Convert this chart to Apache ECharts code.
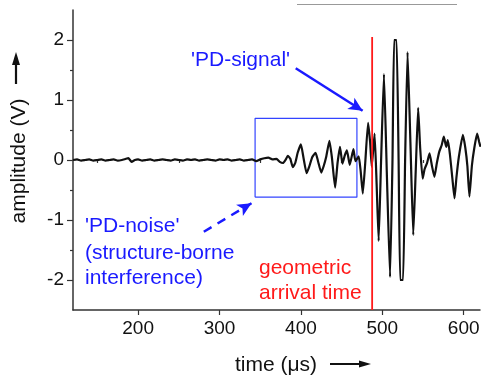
<!DOCTYPE html>
<html><head><meta charset="utf-8">
<script src="https://cdn.jsdelivr.net/npm/echarts@6/dist/echarts.min.js"></script>
<style>html,body{margin:0;padding:0;background:#fff}#c{width:481px;height:375px}</style>
</head><body><div id="c"></div>
<script>
// time (µs)
const times = [120,125,130,135,140,145,150,155,160,165,170,175,180,185,188,192,196,200,205,210,215,220,225,230,235,240,245,250,255,260,265,270,275,280,285,290,295,300,305,310,315,320,325,330,335,340,345,350,355,360,365,370,374,378,381,384,387,390,393,396,400,403,407,410,414,418,421,425,428,431,435,438,442,445,448,451,454,456.5,460,464.5,467,471,473.5,476,479,482.5,485,487,490.5,493,495.5,498.5,502,505.5,509.5,512.5,514.5,517.5,520,522,525.5,528,531,534.5,538,541,544,546.5,549.5,552,555,558,561,564,567,570,573,575.5,578.5,580.5,583,586,588.7,591,594,599,602,604.5,607,610,613,616.5,619,620.6];
// amplitude (V)
const amps = [0.00,0.01,-0.01,0.00,0.01,-0.01,0.00,0.01,-0.01,0.00,0.01,-0.01,0.00,0.02,0.03,-0.03,0.00,0.01,-0.01,0.00,0.01,-0.01,0.00,0.01,0.00,-0.01,0.01,0.00,-0.01,0.01,0.00,0.01,-0.01,0.00,0.01,0.00,-0.01,0.01,0.00,0.01,-0.01,0.00,0.01,-0.01,0.00,0.01,-0.02,0.01,0.03,0.04,0.01,0.02,-0.03,-0.05,0.00,0.07,0.02,-0.12,-0.05,0.12,0.26,0.05,-0.22,-0.12,0.05,0.12,-0.02,-0.21,-0.10,0.05,0.32,0.05,-0.46,-0.05,0.22,-0.06,0.08,0.16,-0.08,0.18,-0.02,0.06,-0.20,-0.56,-0.05,0.62,0.30,-0.11,0.44,-0.40,-1.35,0.00,1.43,-0.20,-1.95,0.00,2.00,2.00,0.00,-2.00,-2.00,0.00,1.80,0.30,-1.25,-0.20,0.87,0.20,-0.31,-0.15,-0.05,0.11,-0.10,-0.28,-0.05,0.14,0.25,0.39,0.22,0.33,0.10,-0.30,-0.64,-0.30,0.05,0.42,0.20,-0.10,-0.61,-0.10,0.20,0.44,0.30,0.22];
const xTicks = [200,300,400,500,600];
const xMinorTicks = [150,250,350,450,550];
const yTicks = [-2,-1,0,1,2];
const yMinorTicks = [-1.5,-0.5,0.5,1.5];
const xRange = [120,620];
const yRange = [-2.5,2.5];
const arrivalLine = [[487.5,-2.5],[487.5,2.05]];
const noiseBox = [[343.7,-0.62],[468.8,-0.62],[468.8,0.695],[343.7,0.695],[343.7,-0.62]];
const signalArrow = [[393.6,1.53],[475.8,0.82]];
const noiseArrow = [[280.7,-1.195],[339.3,-0.72]];

const FONT = "Arial, 'Liberation Sans', sans-serif";
const BLUE = '#1a1aff', RED = '#ff1a1a', AX = '#333';
const chart = echarts.init(document.getElementById('c'), null, {renderer:'canvas'});

function txt(x, y, s, color, size, rot) {
  return {type:'text', x:x, y:y, rotation: rot || 0, z:100,
    style:{text:s, fill:color, font: size + 'px ' + FONT, align: rot ? 'center' : 'left', verticalAlign:'middle'}};
}

chart.setOption({
  animation:false,
  grid:{left:73, right:1, top:10, bottom:65, outerBoundsMode:'none'},
  xAxis:[
    {type:'value', min:xRange[0], max:xRange[1], position:'bottom',
     axisLine:{show:true, onZero:false, lineStyle:{color:AX, width:1.5}},
     axisTick:{show:true, customValues:xTicks, length:5, lineStyle:{color:AX, width:1.2}},
     axisLabel:{customValues:xTicks, fontSize:19, color:'#111', fontFamily:FONT, margin:9},
     splitLine:{show:false}},
    {type:'value', min:xRange[0], max:xRange[1], position:'bottom',
     axisLine:{show:false},
     axisTick:{show:true, customValues:xMinorTicks, length:3, lineStyle:{color:AX, width:1.2}},
     axisLabel:{show:false}, splitLine:{show:false}}
  ],
  yAxis:[
    {type:'value', min:yRange[0], max:yRange[1], position:'left',
     axisLine:{show:true, onZero:false, lineStyle:{color:AX, width:1.5}},
     axisTick:{show:true, customValues:yTicks, length:6, lineStyle:{color:AX, width:1.2}},
     axisLabel:{customValues:yTicks, fontSize:19, color:'#111', fontFamily:FONT, margin:9},
     splitLine:{show:false}},
    {type:'value', min:yRange[0], max:yRange[1], position:'left',
     axisLine:{show:false},
     axisTick:{show:true, customValues:yMinorTicks, length:3, lineStyle:{color:AX, width:1.2}},
     axisLabel:{show:false}, splitLine:{show:false}}
  ],
  series:[
    {type:'line', xAxisIndex:0, yAxisIndex:0, data:times.map((t,i)=>[t,amps[i]]),
     showSymbol:false, symbol:'none', smooth:0.15, lineStyle:{color:'#111', width:2.2}, z:5},
    {type:'line', data:noiseBox, showSymbol:false, symbol:'none',
     lineStyle:{color:'#3344ff', width:1.2}, z:4},
    {type:'line', data:arrivalLine, showSymbol:false, symbol:'none',
     lineStyle:{color:RED, width:1.8}, z:6},
    {type:'line', data:[], symbol:'none',
     markLine:{silent:true, symbol:['none','arrow'], symbolSize:[10,14], animation:false,
       label:{show:false},
       data:[
         [{coord:signalArrow[0], lineStyle:{color:BLUE, width:2.5, type:'solid'}},{coord:signalArrow[1]}],
         [{coord:noiseArrow[0], lineStyle:{color:BLUE, width:2.5, type:[9,7]}},{coord:noiseArrow[1]}]
       ]}}
  ],
  graphic:[
    txt(191, 60, "'PD-signal'", BLUE, 21),
    txt(85, 226, "'PD-noise'", BLUE, 21),
    txt(85, 253, "(structure-borne", BLUE, 21),
    txt(85, 278, "interference)", BLUE, 21),
    txt(259, 268, "geometric", RED, 21),
    txt(259, 293, "arrival time", RED, 21),
    txt(235, 365, "time (\u03bcs)", '#111', 21),
    {type:'line', shape:{x1:330,y1:364,x2:362,y2:364}, style:{stroke:'#111', lineWidth:2}},
    {type:'polygon', shape:{points:[[359,360.5],[371,364],[359,367.5]]}, style:{fill:'#111'}},
    txt(19, 161, "amplitude (V)", '#111', 21, Math.PI/2),
    {type:'line', shape:{x1:16,y1:84,x2:16,y2:62}, style:{stroke:'#111', lineWidth:2.2}},
    {type:'polygon', shape:{points:[[12,65],[16,52],[20,65]]}, style:{fill:'#111'}},
    {type:'line', shape:{x1:297,y1:4.5,x2:457,y2:4.5}, style:{stroke:'#999', lineWidth:1}}
  ]
});
</script></body></html>
